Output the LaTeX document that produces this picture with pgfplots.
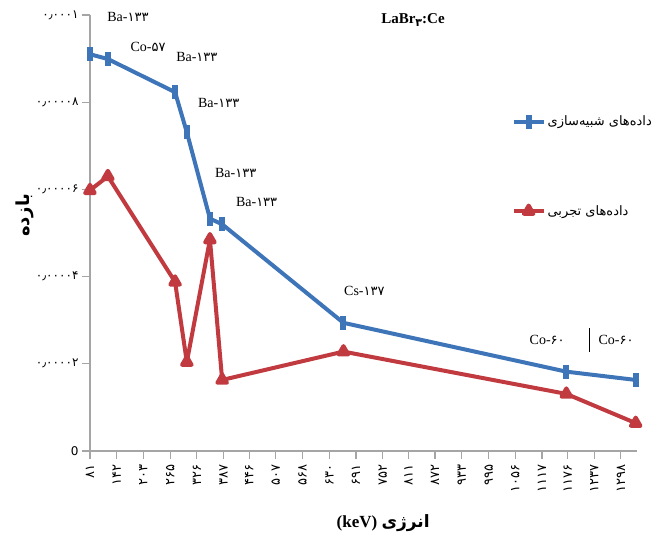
\documentclass[border=0pt]{standalone}
\usepackage{fontspec}
\usepackage{pgfplots}
\pgfplotsset{compat=1.18}
\setmainfont{Liberation Serif}
\newfontfamily\fa[Script=Arabic]{DejaVu Sans}
\newfontfamily\fad{DejaVu Sans}
\TeXXeTstate=1
\definecolor{sim}{RGB}{62,117,185}
\definecolor{expc}{RGB}{192,58,64}
\definecolor{axgray}{RGB}{165,165,165}
\pgfplotstableread{
x y
81 9.10e-5
122 8.99e-5
276 8.23e-5
303 7.31e-5
356 5.33e-5
384 5.20e-5
662 2.94e-5
1173 1.82e-5
1332 1.63e-5
}\simdata
\pgfplotstableread{
x y
81 5.98e-5
122 6.30e-5
276 3.88e-5
303 2.04e-5
356 4.85e-5
384 1.63e-5
662 2.28e-5
1173 1.31e-5
1332 0.64e-5
}\expdata
\newcommand\pd[1]{{\fad\fontsize{13}{15}\selectfont #1}}
\begin{document}
\begin{tikzpicture}
\begin{axis}[
  scale only axis, width=547pt, height=436pt,
  xmin=81, xmax=1335, ymin=0, ymax=0.0001,
  axis lines*=left,
  axis line style={axgray, line width=2pt},
  tick align=outside,
  major tick length=8pt,
  tick style={axgray, line width=1.2pt},
  scaled y ticks=false,
  xtick={81,142,203,265,326,387,446,507,568,630,691,752,811,872,933,995,1056,1117,1176,1237,1298},
  xticklabels={۸۱,۱۴۲,۲۰۳,۲۶۵,۳۲۶,۳۸۷,۴۴۶,۵۰۷,۵۶۸,۶۳۰,۶۹۱,۷۵۲,۸۱۱,۸۷۲,۹۳۳,۹۹۵,۱۰۵۶,۱۱۱۷,۱۱۷۶,۱۲۳۷,۱۲۹۸},
  x tick label style={font=\fad\fontsize{13}{13}\selectfont, rotate=90, anchor=east, inner sep=5pt},
  ytick={0,0.00002,0.00004,0.00006,0.00008,0.0001},
  yticklabels={0,۰٫۰۰۰۰۲,۰٫۰۰۰۰۴,۰٫۰۰۰۰۶,۰٫۰۰۰۰۸,۰٫۰۰۰۱},
  y tick label style={font=\fad\fontsize{12}{12}\selectfont},
  clip=false,
  legend style={at={(rel axis cs:0.765,0.778)}, anchor=north west, draw=none, fill=none,
    row sep=74pt, font=\fa\fontsize{13}{15}\selectfont, cells={anchor=west}},
  legend image code/.code={\draw[mark repeat=2,mark phase=2] plot coordinates {(0pt,0pt)(15pt,0pt)(30pt,0pt)};},
]
\addplot[sim, line width=4pt, line join=round, mark=|, mark size=7pt, mark options={line width=6pt, solid}] table[x=x,y=y] {\simdata};
\addlegendentry{\beginR داده‌های شبیه‌سازی\endR}
\addplot[expc, line width=4pt, line join=round, mark=triangle*, mark size=5.5pt, mark options={solid}] table[x=x,y=y] {\expdata};
\addlegendentry{\beginR داده‌های تجربی\endR}

\begin{scope}[every node/.style={font=\fontsize{14}{16}\selectfont, inner sep=1pt}]
\node at (axis cs:168,9.95e-5) {Ba-\pd{۱۳۳}};
\node at (axis cs:214,9.26e-5) {Co-\pd{۵۷}};
\node at (axis cs:326,9.03e-5) {Ba-\pd{۱۳۳}};
\node at (axis cs:376,7.98e-5) {Ba-\pd{۱۳۳}};
\node at (axis cs:415,6.37e-5) {Ba-\pd{۱۳۳}};
\node at (axis cs:463,5.70e-5) {Ba-\pd{۱۳۳}};
\node at (axis cs:710,3.66e-5) {Cs-\pd{۱۳۷}};
\node at (axis cs:1129,2.55e-5) {Co-\pd{۶۰}};
\node at (axis cs:1287,2.55e-5) {Co-\pd{۶۰}};
\end{scope}
\draw[black, line width=0.6pt] (axis cs:1225,2.28e-5) -- (axis cs:1225,2.83e-5);

\node[font=\bfseries\fontsize{15}{17}\selectfont] at (rel axis cs:0.5905,0.9885) {LaBr\raisebox{-0.35ex}{\fad\bfseries\fontsize{11}{13}\selectfont ۳}:Ce};
\node[rotate=90, font=\fa\bfseries\fontsize{18}{20}\selectfont] at (rel axis cs:-0.119,0.541) {\beginR بازده\endR};
\node[font=\bfseries\fontsize{17}{19}\selectfont] at (rel axis cs:0.536,-0.165) {(keV) {\fa\bfseries\beginR انرژی\endR}};

\coordinate (bl) at (rel axis cs:-0.1645,-0.204);
\coordinate (tr) at (rel axis cs:1.053,1.0344);
\end{axis}
\pgfresetboundingbox
\path[use as bounding box] (bl) rectangle (tr);
\end{tikzpicture}
\end{document}
